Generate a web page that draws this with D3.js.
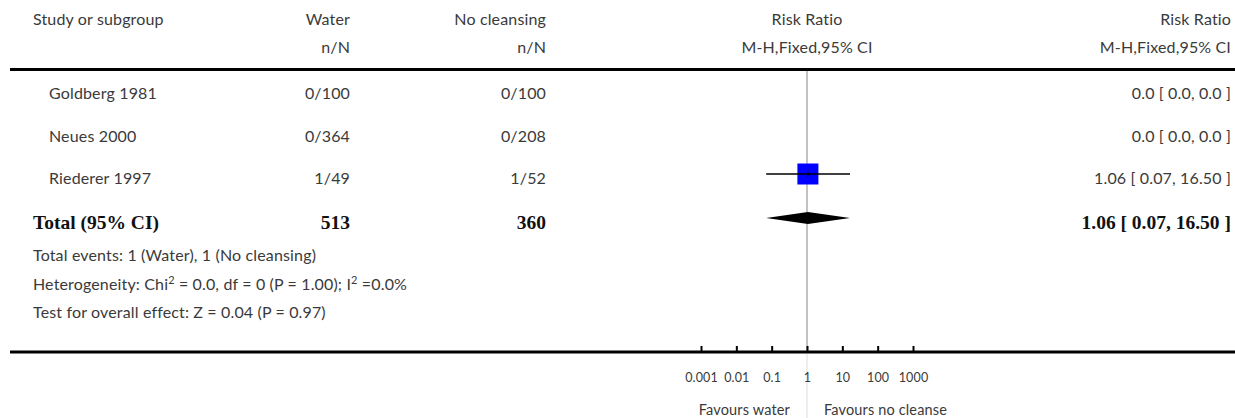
<html>
<head>
<meta charset="utf-8" />
<script src="https://cdnjs.cloudflare.com/ajax/libs/d3/7.8.5/d3.min.js"></script>
<style>
	body { margin: 0; background: #fff; }
	text { font-family: Lato, "Open Sans", sans-serif; font-size: 16px; letter-spacing: 0.15px; fill: #3a3a3a; }
	.bold { font-family: "Liberation Serif", serif; font-weight: bold; font-size: 19.5px; letter-spacing: 0; fill: #111; }
</style>
</head>
<body>
<div id="datavis"></div>
<script type="text/javascript">

// study rows
var studies = ["Goldberg 1981", "Neues 2000", "Riederer 1997"];
var waterN = ["0/100", "0/364", "1/49"];
var noCleanseN = ["0/100", "0/208", "1/52"];
var rr = [null, null, 1.06];
var rrLo = [null, null, 0.07];
var rrHi = [null, null, 16.50];
var rrText = ["0.0 [ 0.0, 0.0 ]", "0.0 [ 0.0, 0.0 ]", "1.06 [ 0.07, 16.50 ]"];

// total row
var totalWater = "513";
var totalNoCleanse = "360";
var totalRR = 1.06, totalLo = 0.07, totalHi = 16.50;
var totalText = "1.06 [ 0.07, 16.50 ]";

// axis
var tickValues = [0.001, 0.01, 0.1, 1, 10, 100, 1000];
var tickLabels = ["0.001", "0.01", "0.1", "1", "10", "100", "1000"];

var w = 1235, h = 418;
var svg = d3.select("#datavis").append("svg").attr("width", w).attr("height", h);

var x = d3.scaleLog().domain([0.001, 1000]).range([701, 913]);
var y = d3.scalePoint().domain(studies).range([93, 178]);
var totalY = 222;
var axisY = 352;

// headers
var hdr = svg.append("g");
hdr.append("text").attr("x", 33).attr("y", 25).text("Study or subgroup");
hdr.append("text").attr("x", 350).attr("y", 25).attr("text-anchor", "end").text("Water");
hdr.append("text").attr("x", 546).attr("y", 25).attr("text-anchor", "end").text("No cleansing");
hdr.append("text").attr("x", x(1)).attr("y", 25).attr("text-anchor", "middle").text("Risk Ratio");
hdr.append("text").attr("x", 1231).attr("y", 25).attr("text-anchor", "end").text("Risk Ratio");
hdr.append("text").attr("x", 350).attr("y", 53).attr("text-anchor", "end").text("n/N");
hdr.append("text").attr("x", 546).attr("y", 53).attr("text-anchor", "end").text("n/N");
hdr.append("text").attr("x", x(1)).attr("y", 53).attr("text-anchor", "middle").text("M-H,Fixed,95% CI");
hdr.append("text").attr("x", 1231).attr("y", 53).attr("text-anchor", "end").text("M-H,Fixed,95% CI");

// reference line
svg.append("line").attr("x1", x(1)).attr("x2", x(1)).attr("y1", 71).attr("y2", axisY)
	.style("stroke", "#888").style("stroke-width", 1);
svg.append("line").attr("x1", x(1)).attr("x2", x(1)).attr("y1", axisY + 2).attr("y2", h)
	.style("stroke", "#ddd").style("stroke-width", 1);

svg.append("line").attr("x1", 10).attr("x2", w).attr("y1", 69.5).attr("y2", 69.5)
	.style("stroke", "#000").style("stroke-width", 3);

// study rows
var rows = svg.selectAll(".row").data(studies).enter().append("g").attr("class", "row");
rows.append("text").attr("x", 49).attr("y", function(d){ return y(d) + 6; }).text(function(d){ return d; });
rows.append("text").attr("x", 350).attr("y", function(d){ return y(d) + 6; }).attr("text-anchor", "end")
	.text(function(d, i){ return waterN[i]; });
rows.append("text").attr("x", 546).attr("y", function(d){ return y(d) + 6; }).attr("text-anchor", "end")
	.text(function(d, i){ return noCleanseN[i]; });
rows.append("text").attr("x", 1231).attr("y", function(d){ return y(d) + 6; }).attr("text-anchor", "end")
	.text(function(d, i){ return rrText[i]; });

rows.each(function(d, i){
	if (rr[i] == null) return;
	var g = d3.select(this), cy = y(d) - 4;
	g.append("rect").attr("x", x(rr[i]) - 10.5).attr("y", cy - 10.5).attr("width", 21).attr("height", 21)
		.style("fill", "#0000ff");
	g.append("line").attr("x1", x(rrLo[i])).attr("x2", x(rrHi[i])).attr("y1", cy).attr("y2", cy)
		.style("stroke", "#000").style("stroke-width", 1.3);
	g.append("line").attr("x1", x(rr[i])).attr("x2", x(rr[i])).attr("y1", cy - 3).attr("y2", cy + 3)
		.style("stroke", "#000").style("stroke-width", 1);
});

// total row
svg.append("text").attr("class", "bold").attr("x", 33).attr("y", totalY + 7).text("Total (95% CI)");
svg.append("text").attr("class", "bold").attr("x", 350).attr("y", totalY + 7).attr("text-anchor", "end").text(totalWater);
svg.append("text").attr("class", "bold").attr("x", 546).attr("y", totalY + 7).attr("text-anchor", "end").text(totalNoCleanse);
svg.append("text").attr("class", "bold").attr("x", 1231).attr("y", totalY + 7).attr("text-anchor", "end").text(totalText);
var dy = totalY - 4;
svg.append("path")
	.attr("d", "M" + x(totalLo) + "," + dy + "L" + x(totalRR) + "," + (dy - 6) + "L" + x(totalHi) + "," + dy + "L" + x(totalRR) + "," + (dy + 6) + "Z")
	.style("fill", "#000");

// footnotes
svg.append("text").attr("x", 33).attr("y", 261).text("Total events: 1 (Water), 1 (No cleansing)");
var het = svg.append("text").attr("x", 33).attr("y", 290);
het.append("tspan").text("Heterogeneity: Chi");
het.append("tspan").attr("dy", -6).style("font-size", "11px").text("2");
het.append("tspan").attr("dy", 6).text(" = 0.0, df = 0 (P = 1.00); I");
het.append("tspan").attr("dy", -6).style("font-size", "11px").text("2");
het.append("tspan").attr("dy", 6).text(" =0.0%");
svg.append("text").attr("x", 33).attr("y", 318).text("Test for overall effect: Z = 0.04 (P = 0.97)");

// axis
var axis = d3.axisBottom(x).tickValues(tickValues).tickSize(-6).tickPadding(21)
	.tickFormat(function(d, i){ return tickLabels[i]; });
var ax = svg.append("g").attr("transform", "translate(0," + axisY + ")").call(axis);
ax.select(".domain").remove();
ax.selectAll(".tick line").style("stroke", "#000").style("stroke-width", 2);
ax.selectAll(".tick text").style("font-family", "Lato, sans-serif").style("font-size", "12.5px").style("fill", "#3a3a3a");
svg.append("line").attr("x1", 10).attr("x2", w).attr("y1", axisY).attr("y2", axisY)
	.style("stroke", "#000").style("stroke-width", 3);

svg.append("text").attr("x", x(1) - 17).attr("y", 415).attr("text-anchor", "end").style("font-size", "14.5px").text("Favours water");
svg.append("text").attr("x", x(1) + 17).attr("y", 415).style("font-size", "14.5px").text("Favours no cleanse");

</script>
</body>
</html>
